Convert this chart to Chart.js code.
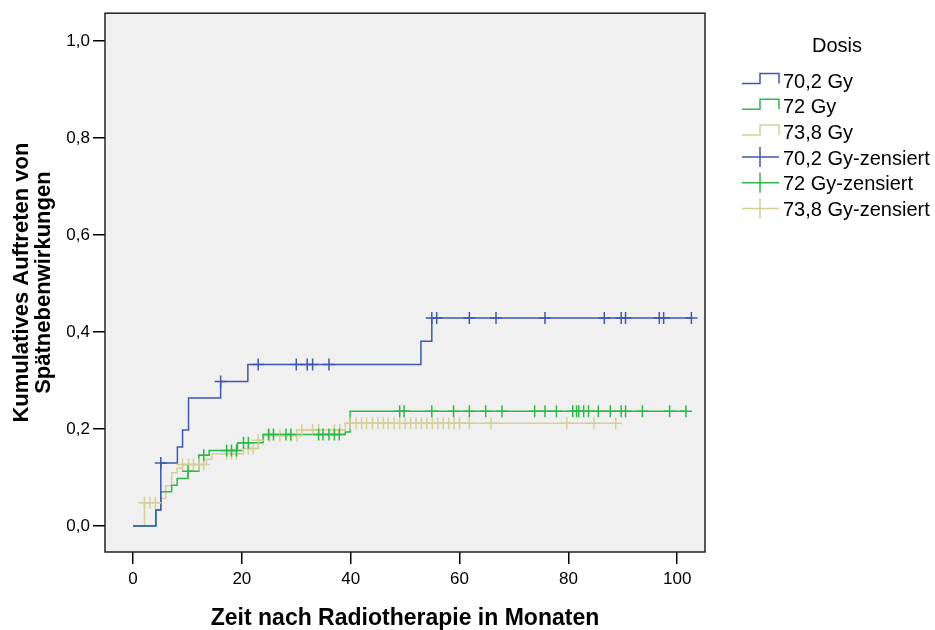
<!DOCTYPE html>
<html>
<head>
<meta charset="utf-8">
<script src="https://cdn.jsdelivr.net/npm/chart.js@4"></script>
<style>
  body { margin: 0; background: #fff; }
  #chartKM { display: block; }
</style>
</head>
<body>
<canvas id="chartKM" width="935" height="630"></canvas>
<script>
/* daten */
const xTicks = [0, 20, 40, 60, 80, 100];
const yTicks = [0, 0.2, 0.4, 0.6, 0.8, 1.0];

const legendLabels = ['70,2 Gy', '72 Gy', '73,8 Gy', '70,2 Gy-zensiert', '72 Gy-zensiert', '73,8 Gy-zensiert'];
const colors = ['#3e58ac', '#2fb84a', '#d5cf99'];

// 70,2 Gy
const blueT = [0, 4.2, 5.1, 8.15, 9.1, 10.2, 16.1, 21.1, 52.9, 54.9, 102.6];
const blueV = [0, 0.033, 0.130, 0.163, 0.198, 0.264, 0.298, 0.333, 0.381, 0.429, 0.429];
const blueCens = [5.1, 16.1, 23.0, 30.0, 32.0, 33.0, 36.0, 54.9, 55.8, 61.8, 66.7, 75.7, 86.6, 89.7, 90.5, 96.7, 97.5, 102.6];

// 72 Gy
const greenT = [0, 4.2, 5.1, 7.1, 8.1, 10.1, 12.1, 14.0, 19.2, 23.9, 39.0, 39.9, 101.6];
const greenV = [0, 0.033, 0.071, 0.084, 0.098, 0.113, 0.146, 0.156, 0.172, 0.189, 0.194, 0.237, 0.237];
const greenCens = [10.1, 13.0, 17.2, 18.1, 19.0, 20.3, 21.2, 24.9, 25.8, 28.1, 29.0, 34.1, 34.9, 36.0, 37.0, 37.9,
    49.0, 49.8, 54.9, 58.9, 61.8, 64.8, 67.8, 73.8, 75.7, 77.8, 80.8, 81.5, 81.9, 82.8, 83.7, 85.5, 87.7, 89.7,
    90.5, 93.6, 98.6, 101.6];

// 73,8 Gy
const beigeT = [0, 2.1, 5.1, 6.0, 7.1, 8.1, 9.1, 13.5, 14.5, 20.3, 23.0, 24.0, 31.0, 39.0, 88.7];
const beigeV = [0, 0.048, 0.057, 0.083, 0.110, 0.119, 0.127, 0.138, 0.149, 0.160, 0.177, 0.187, 0.198, 0.212, 0.212];
const beigeCens = [2.1, 3.1, 4.1, 9.1, 10.2, 11.1, 12.1, 13.0, 17.2, 18.1, 19.0, 21.2, 22.1, 23.0, 25.1, 27.0, 29.0,
    30.1, 31.0, 33.0, 34.1, 37.0, 38.0, 39.9, 41.0, 42.0, 42.9, 44.0, 45.0, 46.0, 46.9, 48.0, 49.0, 50.0, 51.0,
    52.0, 53.0, 54.0, 55.0, 56.0, 57.0, 58.0, 59.0, 60.0, 61.8, 65.8, 79.7, 84.7, 88.7];

const FONT = "'Liberation Sans', Arial, sans-serif";

function steps(ts, vs) {
    return ts.map((t, i) => ({ x: t, y: vs[i] }));
}
// wert der treppenfunktion zum zeitpunkt t (fuer zensierte faelle)
function valueAt(ts, vs, t) {
    let v = vs[0];
    for (let i = 0; i < ts.length; i++) {
        if (ts[i] <= t + 1e-9) v = vs[i];
    }
    return v;
}
function cens(ts, vs, cs) {
    return cs.map(t => ({ x: t, y: valueAt(ts, vs, t) }));
}

function lineSet(label, pts, color) {
    return {
        type: 'line', label: label, data: pts, stepped: 'before',
        borderColor: color, borderWidth: 1.5, pointRadius: 0, fill: false
    };
}
function censSet(label, pts, color) {
    return {
        type: 'scatter', label: label, data: pts, pointStyle: 'cross',
        pointRadius: 6, borderColor: color, backgroundColor: color, pointBorderWidth: 1.5
    };
}

const frame = {
    id: 'frame',
    beforeDraw(chart) {
        const a = chart.chartArea;
        const ctx = chart.ctx;
        ctx.save();
        ctx.fillStyle = '#f0f0f0';
        ctx.fillRect(a.left, a.top, a.right - a.left, a.bottom - a.top);
        ctx.restore();
    },
    afterDraw(chart) {
        const a = chart.chartArea;
        const ctx = chart.ctx;
        ctx.save();
        ctx.strokeStyle = '#222';
        ctx.lineWidth = 1.5;
        ctx.strokeRect(a.left, a.top, a.right - a.left, a.bottom - a.top);

        // legende
        ctx.font = '20px ' + FONT;
        ctx.fillStyle = '#000';
        ctx.textBaseline = 'middle';
        ctx.textAlign = 'center';
        ctx.fillText('Dosis', 837, 46);
        ctx.textAlign = 'left';
        legendLabels.forEach((lab, i) => {
            const y = 82 + i * 25.7;
            ctx.strokeStyle = colors[i % 3];
            ctx.lineWidth = 1.5;
            ctx.beginPath();
            if (i < 3) {
                ctx.moveTo(742, y + 1.5);
                ctx.lineTo(760, y + 1.5);
                ctx.lineTo(760, y - 8.5);
                ctx.lineTo(779, y - 8.5);
                ctx.lineTo(779, y + 1.5);
            } else {
                ctx.moveTo(742, y - 2);
                ctx.lineTo(779, y - 2);
                ctx.moveTo(760, y - 12);
                ctx.lineTo(760, y + 8);
            }
            ctx.stroke();
            ctx.fillText(lab, 783, y);
        });
        ctx.restore();
    }
};

new Chart(document.getElementById('chartKM'), {
    data: {
        datasets: [
            censSet(legendLabels[3], cens(blueT, blueV, blueCens), colors[0]),
            censSet(legendLabels[4], cens(greenT, greenV, greenCens), colors[1]),
            censSet(legendLabels[5], cens(beigeT, beigeV, beigeCens), colors[2]),
            lineSet(legendLabels[0], steps(blueT, blueV), colors[0]),
            lineSet(legendLabels[1], steps(greenT, greenV), colors[1]),
            lineSet(legendLabels[2], steps(beigeT, beigeV), colors[2])
        ]
    },
    options: {
        responsive: false,
        animation: false,
        layout: { padding: { top: 12, right: 230, left: 0, bottom: 0 } },
        plugins: {
            legend: { display: false },
            tooltip: { enabled: false }
        },
        scales: {
            x: {
                type: 'linear',
                min: -5.15,
                max: 105.1,
                afterBuildTicks: s => { s.ticks = xTicks.map(v => ({ value: v })); },
                afterFit: s => { s.height = 78; },
                border: { display: false },
                grid: { drawOnChartArea: false, drawTicks: true, tickLength: 12, color: '#000', lineWidth: 1.5 },
                ticks: { color: '#000', padding: 5, font: { size: 17, family: FONT } },
                title: {
                    display: true,
                    text: 'Zeit nach Radiotherapie in Monaten',
                    color: '#000',
                    padding: { top: 0, bottom: 0 },
                    font: { size: 23, weight: 'bold', family: FONT, lineHeight: 1.0 }
                }
            },
            y: {
                type: 'linear',
                min: -0.0535,
                max: 1.0576,
                afterBuildTicks: s => { s.ticks = yTicks.map(v => ({ value: v })); },
                afterFit: s => { s.width = 105; },
                border: { display: false },
                grid: { drawOnChartArea: false, drawTicks: true, tickLength: 12, color: '#000', lineWidth: 1.5 },
                ticks: {
                    color: '#000', padding: 3, font: { size: 17, family: FONT },
                    callback: v => v.toFixed(1).replace('.', ',')
                },
                title: {
                    display: true,
                    text: ['Kumulatives Auftreten von', 'Spätnebenwirkungen'],
                    color: '#000',
                    padding: { top: 11, bottom: 0 },
                    font: { size: 22, weight: 'bold', family: FONT, lineHeight: 1.0 }
                }
            }
        }
    },
    plugins: [frame]
});
</script>
</body>
</html>
